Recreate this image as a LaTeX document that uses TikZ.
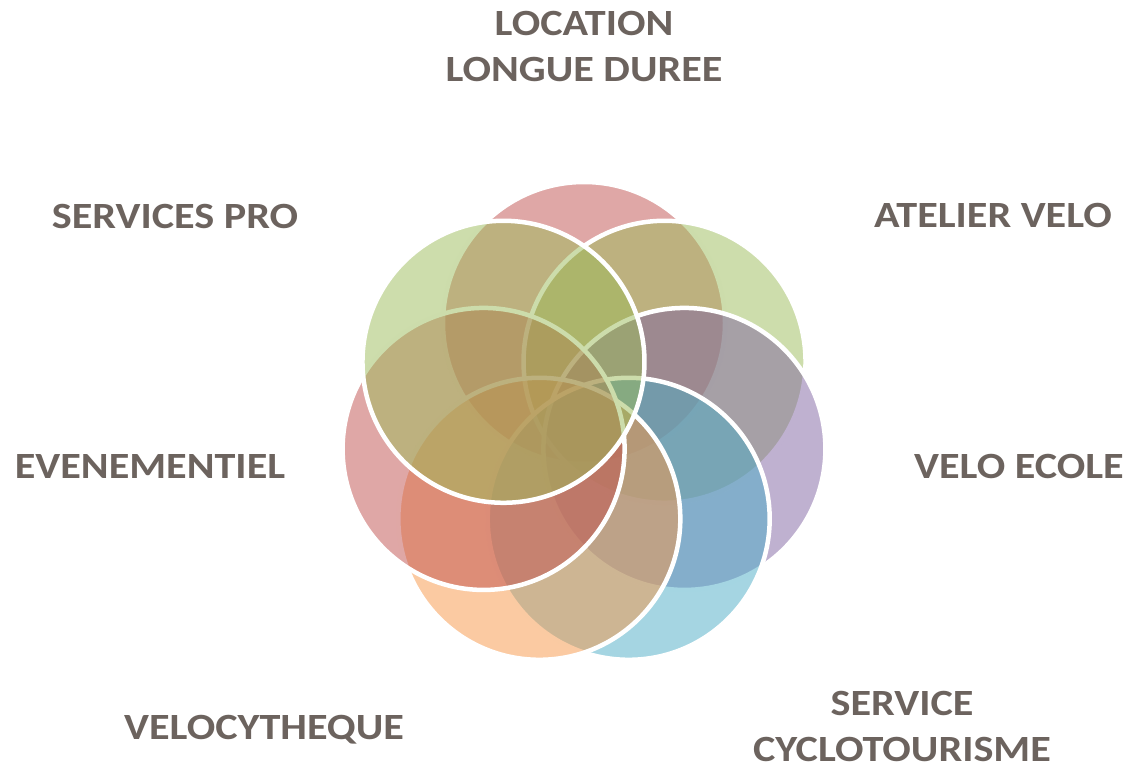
\documentclass[tikz,border=0pt]{standalone}
\usepackage{fontspec}
\setmainfont{Carlito}[FakeStretch=1.14]
\definecolor{txt}{RGB}{108,99,94}
\definecolor{acRed}{HTML}{C0504D}
\definecolor{acGreen}{HTML}{9BBB59}
\definecolor{acPurple}{HTML}{8064A2}
\definecolor{acAqua}{HTML}{4BACC6}
\definecolor{acOrange}{HTML}{F79646}
\begin{document}
\begin{tikzpicture}[x=1pt,y=-1pt,
  petal/.style={circle, minimum size=282pt, inner sep=0pt, outer sep=0pt,
    fill opacity=0.5, draw=white, draw opacity=1, line width=4.5pt},
  lab/.style={text=txt, font=\bfseries\fontsize{37}{46}\selectfont,
    align=center, inner sep=0pt, text depth=0pt, anchor=base}]
\useasboundingbox (0,0) rectangle (1130,770);
\coordinate (ctr) at (584,426);
\node[petal, fill=acRed]    (c1) at ([shift={(-90:103)}]ctr) {};
\node[petal, fill=acGreen]  (c2) at ([shift={(-38.57:103)}]ctr) {};
\node[petal, fill=acPurple] (c3) at ([shift={(12.86:103)}]ctr) {};
\node[petal, fill=acAqua]   (c4) at ([shift={(64.29:103)}]ctr) {};
\node[petal, fill=acOrange] (c5) at ([shift={(115.71:103)}]ctr) {};
\node[petal, fill=acRed]    (c6) at ([shift={(167.14:103)}]ctr) {};
\node[petal, fill=acGreen]  (c7) at ([shift={(218.57:103)}]ctr) {};
\node[lab] (lLoc)   at (584,82)  {LOCATION\\LONGUE DUREE};
\node[lab] (lAtel)  at (993,228) {ATELIER VELO};
\node[lab] (lEcole) at (1019,478) {VELO ECOLE};
\node[lab] (lCyclo) at (902,761) {SERVICE\\CYCLOTOURISME};
\node[lab] (lVcy)   at (264,739) {VELOCYTHEQUE};
\node[lab] (lEven)  at (150,478) {EVENEMENTIEL};
\node[lab] (lPro)   at (175,229) {SERVICES PRO};
\end{tikzpicture}
\end{document}
